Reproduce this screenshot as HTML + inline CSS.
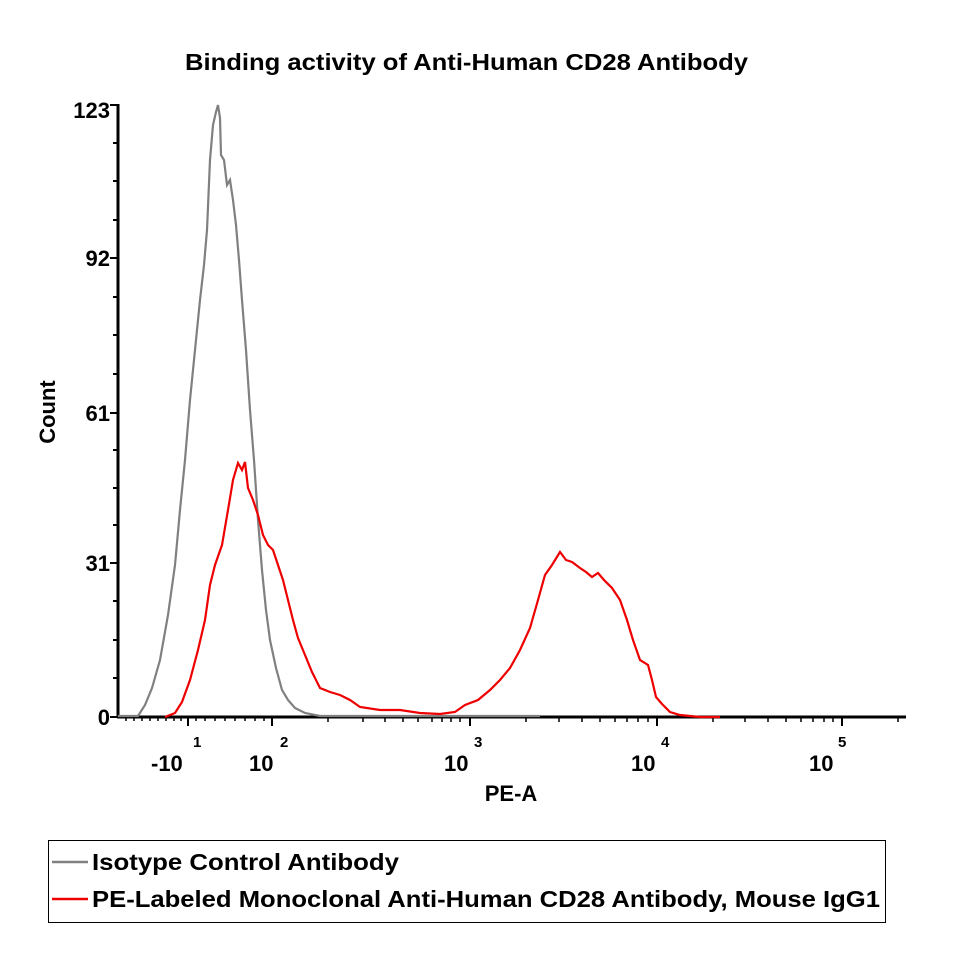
<!DOCTYPE html>
<html><head><meta charset="utf-8"><style>
body{margin:0;background:#fff;}
svg{display:block;font-family:"Liberation Sans",Arial,sans-serif;font-weight:bold;}
</style></head><body>
<svg width="965" height="965" viewBox="0 0 965 965">
<text x="185" y="70" font-size="23" textLength="563" lengthAdjust="spacingAndGlyphs">Binding activity of Anti-Human CD28 Antibody</text>
<line x1="118" y1="104" x2="118" y2="718" stroke="#000" stroke-width="3"/>
<line x1="117" y1="717" x2="906" y2="717" stroke="#000" stroke-width="3"/>
<g stroke="#000" stroke-width="2">
<line x1="110" y1="105" x2="118" y2="105"/><line x1="110" y1="258" x2="118" y2="258"/>
<line x1="110" y1="413" x2="118" y2="413"/><line x1="110" y1="563" x2="118" y2="563"/>
<line x1="110" y1="717" x2="118" y2="717"/>
<line x1="113" y1="143" x2="118" y2="143"/><line x1="113" y1="181" x2="118" y2="181"/><line x1="113" y1="220" x2="118" y2="220"/>
<line x1="113" y1="297" x2="118" y2="297"/><line x1="113" y1="335" x2="118" y2="335"/><line x1="113" y1="374" x2="118" y2="374"/>
<line x1="113" y1="450" x2="118" y2="450"/><line x1="113" y1="488" x2="118" y2="488"/><line x1="113" y1="525" x2="118" y2="525"/>
<line x1="113" y1="601" x2="118" y2="601"/><line x1="113" y1="640" x2="118" y2="640"/><line x1="113" y1="678" x2="118" y2="678"/>
<line x1="188" y1="717" x2="188" y2="726"/><line x1="272" y1="717" x2="272" y2="726"/><line x1="470" y1="717" x2="470" y2="726"/>
<line x1="657" y1="717" x2="657" y2="726"/><line x1="842" y1="717" x2="842" y2="726"/>
</g>
<g stroke="#000" stroke-width="1.5">
<line x1="126" y1="717" x2="126" y2="721"/><line x1="134" y1="717" x2="134" y2="721"/><line x1="142" y1="717" x2="142" y2="721"/><line x1="150" y1="717" x2="150" y2="721"/><line x1="158" y1="717" x2="158" y2="721"/><line x1="166" y1="717" x2="166" y2="721"/><line x1="174" y1="717" x2="174" y2="721"/><line x1="181" y1="717" x2="181" y2="721"/>
<line x1="196" y1="717" x2="196" y2="721"/><line x1="205" y1="717" x2="205" y2="721"/><line x1="215" y1="717" x2="215" y2="721"/><line x1="225" y1="717" x2="225" y2="721"/><line x1="235" y1="717" x2="235" y2="721"/><line x1="245" y1="717" x2="245" y2="721"/><line x1="255" y1="717" x2="255" y2="721"/><line x1="264" y1="717" x2="264" y2="721"/>
<line x1="328" y1="717" x2="328" y2="722"/><line x1="363" y1="717" x2="363" y2="722"/><line x1="385" y1="717" x2="385" y2="722"/><line x1="403" y1="717" x2="403" y2="722"/><line x1="418" y1="717" x2="418" y2="722"/><line x1="432" y1="717" x2="432" y2="722"/><line x1="442" y1="717" x2="442" y2="722"/><line x1="451" y1="717" x2="451" y2="722"/><line x1="460" y1="717" x2="460" y2="722"/>
<line x1="526" y1="717" x2="526" y2="722"/><line x1="559" y1="717" x2="559" y2="722"/><line x1="582" y1="717" x2="582" y2="722"/><line x1="600" y1="717" x2="600" y2="722"/><line x1="615" y1="717" x2="615" y2="722"/><line x1="627" y1="717" x2="627" y2="722"/><line x1="638" y1="717" x2="638" y2="722"/><line x1="648" y1="717" x2="648" y2="722"/>
<line x1="713" y1="717" x2="713" y2="722"/><line x1="745" y1="717" x2="745" y2="722"/><line x1="768" y1="717" x2="768" y2="722"/><line x1="786" y1="717" x2="786" y2="722"/><line x1="801" y1="717" x2="801" y2="722"/><line x1="813" y1="717" x2="813" y2="722"/><line x1="824" y1="717" x2="824" y2="722"/><line x1="833" y1="717" x2="833" y2="722"/>
<line x1="898" y1="717" x2="898" y2="722"/>
</g>
<g font-size="22" text-anchor="end">
<text x="110" y="118">123</text><text x="110" y="266">92</text><text x="110" y="421">61</text><text x="110" y="571">31</text><text x="110" y="725">0</text>
</g>
<text transform="translate(55,412) rotate(-90)" font-size="22" text-anchor="middle">Count</text>
<g font-size="22">
<text x="151" y="771">-10</text><text x="193" y="747" font-size="15">1</text>
<text x="249" y="771">10</text><text x="280" y="747" font-size="15">2</text>
<text x="444" y="771">10</text><text x="474" y="747" font-size="15">3</text>
<text x="631" y="771">10</text><text x="661" y="747" font-size="15">4</text>
<text x="809" y="771">10</text><text x="838" y="747" font-size="15">5</text>
</g>
<text x="511" y="801" font-size="22" text-anchor="middle">PE-A</text>
<polyline fill="none" stroke="#808080" stroke-width="2.2" points="118,716 138,716 145,705 152,688 160,660 168,615 175,565 180,510 185,460 190,400 195,350 200,300 204,265 207,230 210,160 213,125 216,112 218,105 220,118 221,155 224,160 227,185 230,180 233,200 236,225 239,260 242,300 246,350 250,410 254,460 258,520 262,570 266,610 270,640 276,668 282,690 288,700 295,708 305,713 320,716 360,716 440,716 540,716"/>
<polyline fill="none" stroke="#ee0000" stroke-width="2.2" points="165,717 175,713 182,702 190,680 198,650 205,620 210,585 215,565 222,545 228,510 233,480 238,463 242,470 245,462 248,488 253,500 258,515 263,535 268,545 273,550 278,565 283,580 288,600 293,620 298,638 305,655 312,672 320,688 330,692 340,695 350,700 360,707 380,710 400,710 420,713 440,714 455,712 465,705 478,700 490,690 500,680 510,668 520,650 530,628 538,600 545,575 552,565 560,552 566,560 572,562 580,568 586,572 592,577 598,573 604,580 612,588 620,600 627,620 633,640 640,660 648,665 652,680 656,697 662,704 670,712 680,715 700,717 720,717"/>
<rect x="48.5" y="840.5" width="837" height="82" fill="none" stroke="#000" stroke-width="1"/>
<line x1="52" y1="862" x2="88" y2="862" stroke="#808080" stroke-width="2.5"/>
<line x1="52" y1="899" x2="88" y2="899" stroke="#ee0000" stroke-width="2.5"/>
<text x="92" y="870" font-size="23" textLength="307" lengthAdjust="spacingAndGlyphs">Isotype Control Antibody</text>
<text x="92" y="907" font-size="23" textLength="788" lengthAdjust="spacingAndGlyphs">PE-Labeled Monoclonal Anti-Human CD28 Antibody, Mouse IgG1</text>
</svg>
</body></html>
